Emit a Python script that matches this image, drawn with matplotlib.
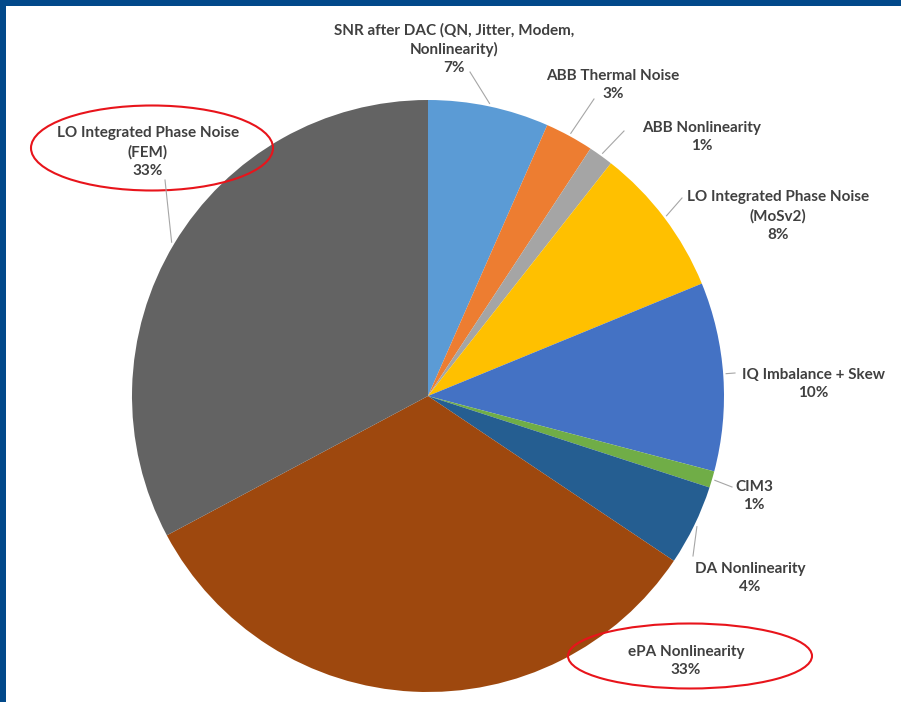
import numpy as np
import matplotlib.pyplot as plt
from matplotlib.patches import Ellipse, Rectangle

# slice data, clockwise from 12 o'clock
labels = [
    "SNR after DAC (QN, Jitter, Modem,\nNonlinearity)",
    "ABB Thermal Noise",
    "ABB Nonlinearity",
    "LO Integrated Phase Noise\n(MoSv2)",
    "IQ Imbalance + Skew",
    "CIM3",
    "DA Nonlinearity",
    "ePA Nonlinearity",
    "LO Integrated Phase Noise\n(FEM)",
]
values = [6.6, 2.65, 1.35, 8.2, 10.3, 0.9, 4.4, 32.8, 32.8]
colors = ["#5B9BD5", "#ED7D31", "#A5A5A5", "#FFC000", "#4472C4",
          "#70AD47", "#255E91", "#9E480E", "#636363"]

W, H = 901, 702


def py(y):
    # picture rows run downwards, axes upwards
    return H - y


def main():
    fig = plt.figure(figsize=(W / 100, H / 100), dpi=100)
    ax = fig.add_axes([0, 0, 1, 1])

    cx, cy, r = 428, py(396), 296
    wedges, _ = ax.pie(values, colors=colors, startangle=90, counterclock=False,
                       center=(cx, cy), radius=r, frame=True,
                       wedgeprops=dict(linewidth=0))
    ax.set_xlim(0, W)
    ax.set_ylim(0, H)
    ax.axis("off")

    # label placement (picture coords) and leader start, None = no leader
    text_pos = [(454, 49), (613, 85), (702, 137), (778, 216), (813, 384),
                (754, 496), (750, 578), (686, 661), (148, 152)]
    leader_start = [(470, 72), (594, 99), (624, 131), (682, 198), (735, 373),
                    (732, 487), (693, 556), None, (165, 180)]
    leader_mode = ["mid", "mid", "mid", "mid", "near", "mid", "mid", None, "mid"]

    txt_kw = dict(ha="center", va="center", fontsize=11, fontweight="bold",
                  color="#404040", family=["Lato", "DejaVu Sans"], linespacing=1.38)

    for w, lab, val, (tx, ty), st, mode in zip(wedges, labels, values, text_pos,
                                               leader_start, leader_mode):
        ax.text(tx, py(ty), f"{lab}\n{round(val)}%", **txt_kw)
        if st is None:
            continue
        sx, sy = st[0], py(st[1])
        if mode == "mid":
            ang = (w.theta1 + w.theta2) / 2
        else:
            ang = np.degrees(np.arctan2(sy - cy, sx - cx))
            ang = min(max(ang, w.theta1), w.theta2)
        ex = cx + r * 1.01 * np.cos(np.radians(ang))
        ey = cy + r * 1.01 * np.sin(np.radians(ang))
        ax.plot([sx, ex], [sy, ey], color="#A6A6A6", lw=0.8)

    # red highlight ellipses
    ax.add_patch(Ellipse((152, py(148)), 242, 85, fill=False, ec="#E8141B", lw=1.5))
    ax.add_patch(Ellipse((690, py(656)), 244, 65, fill=False, ec="#E8141B", lw=1.5))

    # slide frame
    ax.add_patch(Rectangle((0, 0), 6, H, color="#02498A", lw=0))
    ax.add_patch(Rectangle((0, py(6)), W, 6, color="#02498A", lw=0))

    fig.savefig("out.png", dpi=100)


if __name__ == "__main__":
    main()
